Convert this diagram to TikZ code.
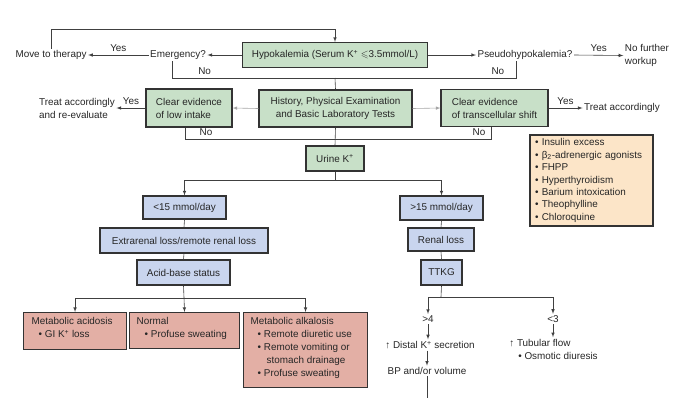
\documentclass[tikz,border=0pt]{standalone}
\usepackage{amssymb,amsmath}
\usepackage{fontspec}
\setmainfont{Liberation Sans}
\usetikzlibrary{%
  arrows,%
  calc%
}
\definecolor{kgreen}{RGB}{200,224,200}
\definecolor{kblue}{RGB}{201,213,238}
\definecolor{kpink}{RGB}{227,175,165}
\definecolor{kbeige}{RGB}{252,229,200}
\tikzset{>=latex}
\tikzset{>=latex, box/.style = {draw=black!80, line width=1.1pt, inner sep=2pt, align=center},%
  greenbox/.style={box, fill=kgreen},%
  bluebox/.style={box, fill=kblue},%
  pinkbox/.style={box, fill=kpink, align=left, anchor=north west, inner sep=0pt},%
  conn/.style={draw=black!75, line width=0.6pt},%
  faint/.style={draw=black!35, line width=0.6pt},%
  txt/.style={inner sep=1.5pt, align=left}}

\begin{document}
\begin{tikzpicture}[x=1pt,y=-1pt,every node/.style={font=\fontsize{9.9}{13}\selectfont, text=black!85}]
  \useasboundingbox (0,0) rectangle (688,400);
  % first row
  \node[greenbox, minimum width=185pt, minimum height=25pt] (hypo) at (335,55)
    {Hypokalemia (Serum K\textsuperscript{+} $\leqslant$3.5mmol/L)};
  \node[txt] (emerg) at (178,55) {Emergency?};
  \node[txt] (therapy) at (51,55) {Move to therapy};
  \node[txt] (pseudo) at (525,55) {Pseudohypokalemia?};
  \node[txt] (nofurther) at (647,55.5) {No further\\workup};
  \coordinate (top) at (335,29);
  \coordinate (jn1) at (335,78);
  \draw[conn,->] (therapy.north) |- (top) -- (hypo.north);
  \draw[conn,->] (hypo.west) -- (emerg.east);
  \draw[conn,->] (emerg.west) -- (therapy.east) node[midway,above] {Yes};
  \draw[conn,->] (hypo.east) -- (pseudo.west);
  \draw[conn,->] (pseudo.east) -- (nofurther.west) node[midway,above] {Yes};
  \draw[conn] ([xshift=-6pt]emerg.south) |- (jn1) node[pos=0.6,above] {No};
  \draw[conn] ([xshift=-9pt]pseudo.south) |- (jn1) node[pos=0.55,above] {No};
  % second row
  \node[greenbox, minimum width=153pt, minimum height=37pt] (history) at (335.5,108.5)
    {History, Physical Examination\\and Basic Laboratory Tests};
  \node[greenbox, minimum width=86pt, minimum height=38pt, align=left] (lowint) at (189,108)
    {Clear evidence\\of low intake};
  \node[greenbox, minimum width=107pt, minimum height=37pt, align=left] (trans) at (494.5,108)
    {Clear evidence\\of transcellular shift};
  \node[txt] (treat1) at (77,108) {Treat accordingly\\and re-evaluate};
  \node[txt] (treat2) at (622,108) {Treat accordingly};
  \draw[conn] (jn1) -- (history.north);
  \draw[faint,->] (history.west) -- (lowint.east);
  \draw[faint,->] (history.east) -- (trans.west);
  \draw[conn,->] (lowint.west) -- (treat1.east) node[midway,above] {Yes};
  \draw[conn,->] (trans.east) -- (treat2.west) node[midway,above] {Yes};
  \coordinate (jn2) at (335,139);
  \draw[conn] ([xshift=-4pt]lowint.south) |- (jn2) node[pos=0.57,above] {No};
  \draw[conn] ([xshift=-3pt]trans.south) |- (jn2) node[pos=0.54,above] {No};
  % urine and branches
  \node[greenbox, minimum width=58pt, minimum height=25pt] (urine) at (335,158.5) {Urine K\textsuperscript{+}};
  \draw[conn] (history.south) -- (urine.north);
  \node[box, fill=kbeige, align=left, minimum width=123pt, minimum height=91pt,
    text width=113pt, font=\fontsize{9.9}{12.4}\selectfont] (causes) at (591.5,180.5)
    {\textbullet\ Insulin excess\\\textbullet\ β\textsubscript{2}-adrenergic agonists\\\textbullet\ FHPP\\
     \textbullet\ Hyperthyroidism\\\textbullet\ Barium intoxication\\\textbullet\ Theophylline\\
     \textbullet\ Chloroquine};
  \node[bluebox, minimum width=83pt, minimum height=23pt] (low15) at (184.5,207.5) {<15 mmol/day};
  \node[bluebox, minimum width=168pt, minimum height=25pt] (extra) at (184,240.5)
    {Extrarenal loss/remote renal loss};
  \node[bluebox, minimum width=93pt, minimum height=25pt] (acid) at (183.5,272.5) {Acid-base status};
  \node[bluebox, minimum width=83pt, minimum height=24pt] (high15) at (441.5,208) {>15 mmol/day};
  \node[bluebox, minimum width=66pt, minimum height=23pt] (renal) at (441,239.5) {Renal loss};
  \node[bluebox, minimum width=41pt, minimum height=25pt] (ttkg) at (441.5,272.5) {TTKG};
  \coordinate (jn3) at (335,180);
  \draw[conn] (urine.south) -- (jn3);
  \draw[conn,->] (jn3) -| (low15.north);
  \draw[conn,->] (jn3) -| (high15.north);
  \draw[conn] (low15.south) -- (extra.north);
  \draw[conn] (extra.south) -- (acid.north);
  \draw[conn] (high15.south) -- (renal.north);
  \draw[conn] (renal.south) -- (ttkg.north);
  % acid-base outcomes
  \node[pinkbox, minimum width=103pt, minimum height=37pt] (acidosis) at (23,312) {};
  \node[txt, anchor=north west] at (30,316) {Metabolic acidosis\\\hspace{7pt}\textbullet\ GI K\textsuperscript{+} loss};
  \node[pinkbox, minimum width=110pt, minimum height=36pt] (normal) at (129,312) {};
  \node[txt, anchor=north west] at (135,316) {Normal\\\hspace{8pt}\textbullet\ Profuse sweating};
  \node[pinkbox, minimum width=124pt, minimum height=75pt] (alkalosis) at (243,312) {};
  \node[txt, anchor=north west] at (249,316)
    {Metabolic alkalosis\\\hspace{7pt}\textbullet\ Remote diuretic use\\\hspace{7pt}\textbullet\ Remote vomiting or\\
     \hspace{16pt}stomach drainage\\\hspace{7pt}\textbullet\ Profuse sweating};
  \coordinate (jn4) at (184,298);
  \draw[conn] (acid.south) -- (jn4);
  \draw[conn,->] (jn4) -| (acidosis.north);
  \draw[conn,->] (jn4) -- (normal.north);
  \draw[conn,->] (jn4) -| (alkalosis.north);
  % TTKG outcomes
  \node[txt] (gt4) at (428,319) {>4};
  \node[txt] (lt3) at (553,319) {<3};
  \node[txt] (distal) at (430,345) {↑ Distal K\textsuperscript{+} secretion};
  \node[txt] (bp) at (427,371) {BP and/or volume};
  \node[txt] (tubular) at (553.5,349) {↑ Tubular flow\\\hspace{9pt}\textbullet\ Osmotic diuresis};
  \coordinate (jn5) at (441,297);
  \coordinate (bpend) at (427,398);
  \draw[conn] (ttkg.south) -- (jn5);
  \draw[conn,->] (jn5) -| (gt4.north);
  \draw[conn,->] (jn5) -| (lt3.north);
  \draw[conn,->] (gt4.south) -- (gt4.south |- distal.north);
  \draw[conn,->] (distal.south -| bp.north) -- (bp.north);
  \draw[conn] (bp.south) -- (bpend);
  \draw[conn,->] (lt3.south) -- (lt3.south |- tubular.north);
\end{tikzpicture}
\end{document}
